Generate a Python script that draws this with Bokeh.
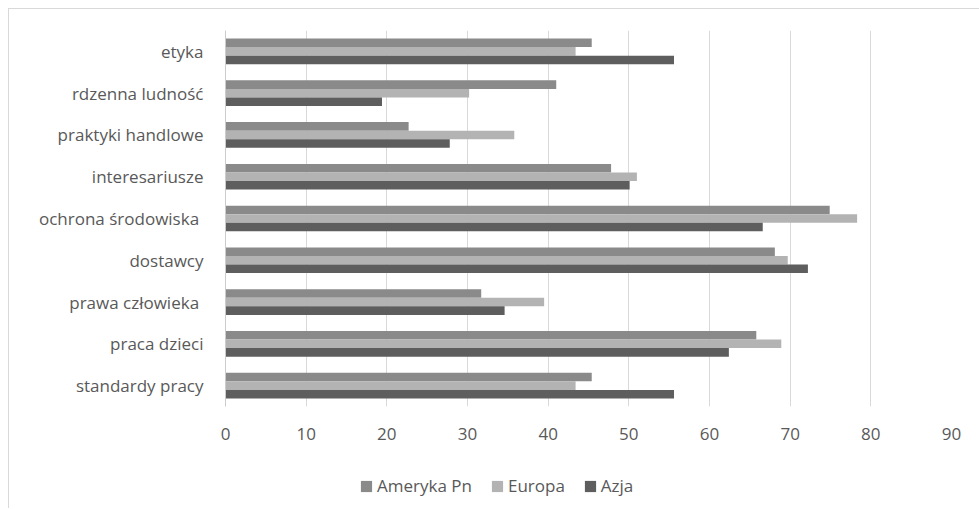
from bokeh.plotting import figure
from bokeh.models import FactorRange, Legend, LegendItem, ColumnDataSource
from bokeh.layouts import column
from bokeh.transform import dodge
from bokeh.embed import file_html
from bokeh.resources import INLINE

categories = ["standardy pracy", "praca dzieci", "prawa człowieka ", "dostawcy",
              "ochrona środowiska ", "interesariusze", "praktyki handlowe",
              "rdzenna ludność", "etyka"]
ameryka = [45.4, 65.8, 31.7, 68.1, 74.9, 47.8, 22.7, 41.0, 45.4]
europa = [43.4, 68.9, 39.5, 69.7, 78.3, 51.0, 35.8, 30.2, 43.4]
azja = [55.6, 62.4, 34.6, 72.2, 66.6, 50.1, 27.8, 19.4, 55.6]
series_names = ["Ameryka Pn", "Europa", "Azja"]
x_ticks = [0, 10, 20, 30, 40, 50, 60, 70, 80, 90]

colors = ["#8a8a8a", "#b3b3b3", "#5e5e5e"]
text_color = "#595959"
font = "Open Sans"
fsize = "17px"

src = ColumnDataSource(dict(cat=categories, am=ameryka, eu=europa, az=azja))

p = figure(width=970, height=451, output_backend="svg", toolbar_location=None,
           y_range=FactorRange(factors=categories), x_range=(0, 90),
           min_border_left=216, min_border_right=28, min_border_top=21,
           min_border_bottom=54)
p.outline_line_color = None
p.background_fill_color = "white"
p.border_fill_color = "white"

h = 0.205
for key, off, col in [("am", h, colors[0]), ("eu", 0, colors[1]), ("az", -h, colors[2])]:
    p.hbar(y=dodge("cat", off, range=p.y_range), right=key, left=0, height=h,
           source=src, fill_color=col, line_color=None)

p.xaxis.ticker = x_ticks
p.xaxis.axis_line_color = None
p.xaxis.major_tick_line_color = None
p.xaxis.minor_tick_line_color = None
p.xaxis.major_label_standoff = 15
p.xaxis.major_label_text_font = font
p.xaxis.major_label_text_font_size = fsize
p.xaxis.major_label_text_color = text_color

p.yaxis.axis_line_color = "#cccccc"
p.yaxis.major_tick_line_color = None
p.yaxis.minor_tick_line_color = None
p.yaxis.major_label_standoff = 16
p.yaxis.major_label_text_font = font
p.yaxis.major_label_text_font_size = fsize
p.yaxis.major_label_text_color = text_color

p.xgrid.grid_line_color = "#d9d9d9"
p.xgrid.ticker = x_ticks
p.ygrid.grid_line_color = None

# legend strip below the chart (proxy glyphs lie outside the visible range)
lf = figure(width=970, height=48, output_backend="svg", toolbar_location=None,
            x_axis_type=None, y_axis_type=None, x_range=(0, 1), y_range=(0, 1),
            min_border=0)
lf.outline_line_color = None
lf.grid.grid_line_color = None
proxy = ColumnDataSource(dict(y=[-5], right=[0]))
items = []
for name, col in zip(series_names, colors):
    r = lf.hbar(y="y", right="right", left=0, height=0.1, source=proxy,
                fill_color=col, line_color=None)
    items.append(LegendItem(label=name, renderers=[r]))
legend = Legend(items=items, orientation="horizontal", location=(134, 11),
                glyph_width=14, glyph_height=14, label_standoff=4, spacing=18,
                padding=0, margin=0, border_line_color=None,
                label_text_font=font, label_text_font_size=fsize,
                label_text_color=text_color, background_fill_alpha=0)
lf.add_layout(legend, "center")

layout = column(p, lf, spacing=0,
                styles={"margin-left": "8px", "margin-top": "8px",
                        "border-left": "1px solid #d9d9d9",
                        "border-top": "1px solid #d9d9d9"})

open("out.html", "w").write(file_html(layout, INLINE))
